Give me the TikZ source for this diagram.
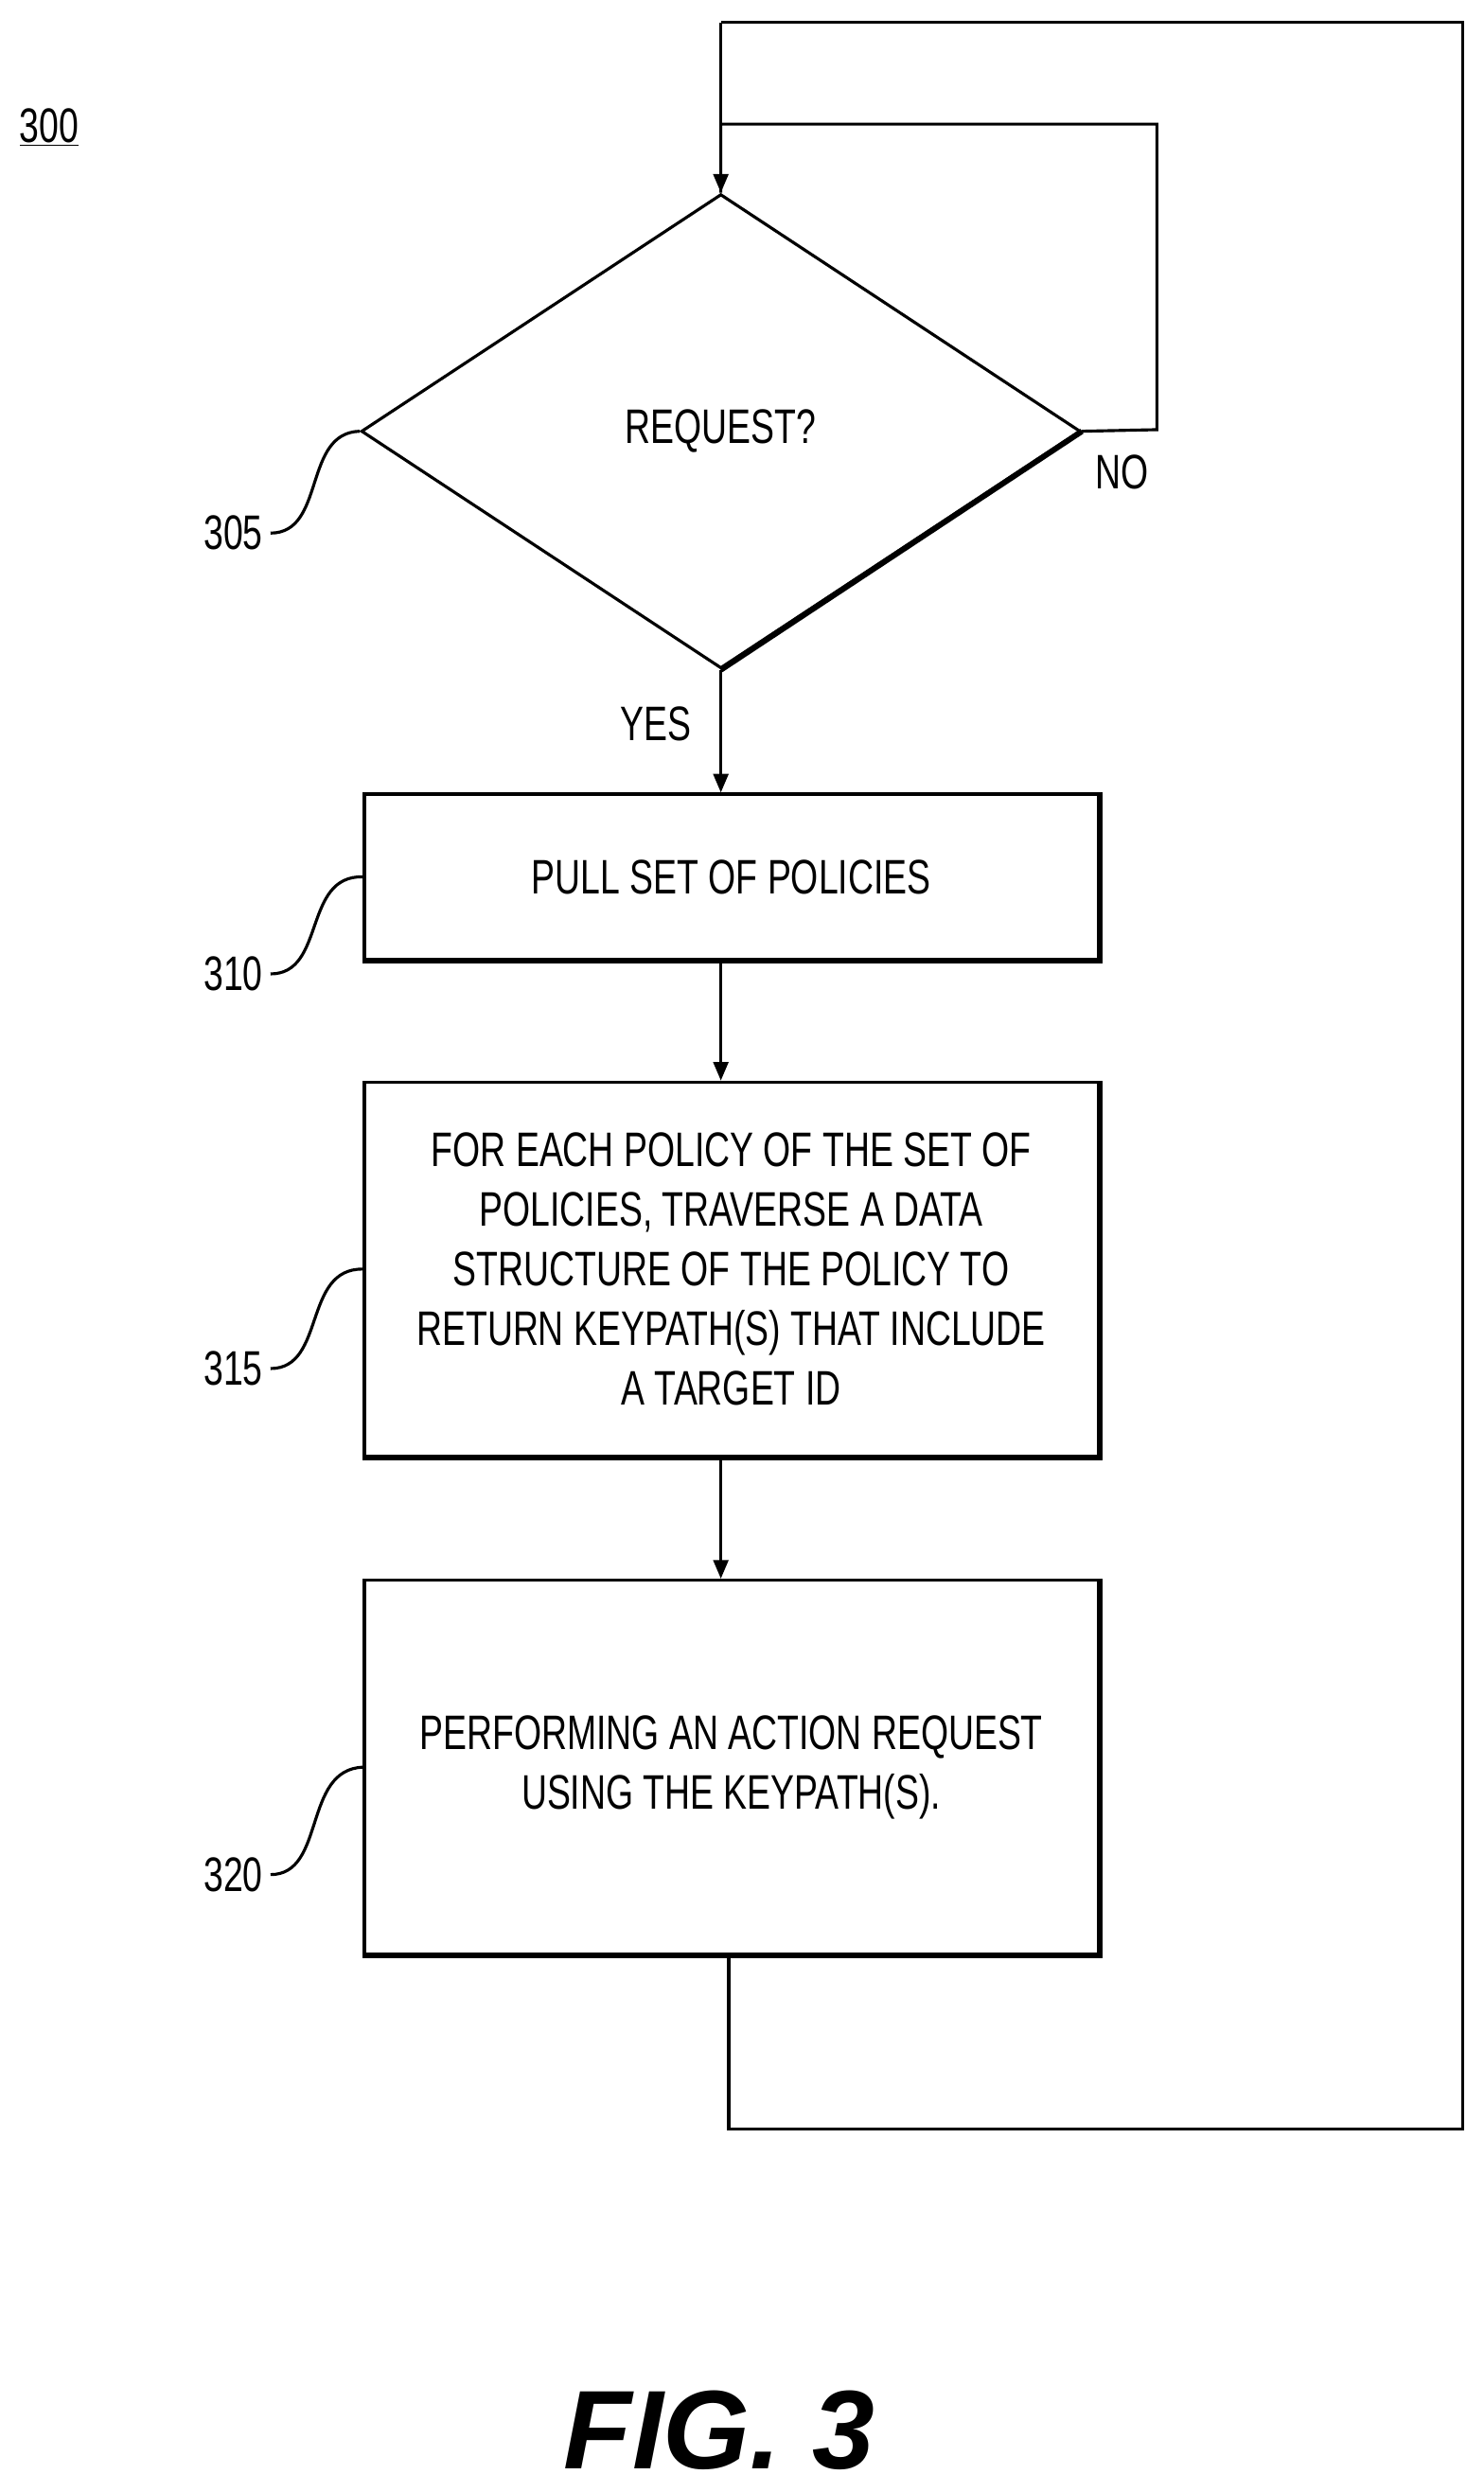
\documentclass[tikz,border=0pt]{standalone}
\usepackage{fontspec}
\setmainfont{Liberation Sans}[FakeStretch=0.73]
\newfontfamily\figfont{Liberation Sans}
\usetikzlibrary{arrows.meta,positioning,shapes.geometric}
\begin{document}
\begin{tikzpicture}[x=0.03cm,y=-0.03cm,line width=1.6pt,
    flowbox/.style={draw, rectangle, inner sep=0pt, minimum width=13.83cm, align=center, font=\fontsize{26}{32}\selectfont},
    ref/.style={font=\fontsize{26}{32}\selectfont, anchor=east},
    flow/.style={-{Triangle[length=10pt,width=8pt]}}]
  \useasboundingbox (0,0) rectangle (932,1566);

  % Title
  \node[font=\fontsize{26}{32}\selectfont] (fignum) at (31,80) {\underline{300}};

  % Decision
  \node[draw, diamond, inner sep=0pt, minimum width=13.56cm, minimum height=8.94cm, aspect=1.517,
    font=\fontsize{26}{32}\selectfont] (req) at (453,271) {REQUEST?};
  \draw[line width=3pt] (req.east) -- (req.south);
  \node[font=\fontsize{26}{32}\selectfont] (no) at (705,297) {NO};
  \node[font=\fontsize{26}{32}\selectfont] (yes) at (412,455) {YES};

  % Steps
  \node[flowbox, minimum height=3.12cm] (pull) at (459.5,551) {PULL SET OF POLICIES};
  \node[flowbox, minimum height=7.05cm] (trav) at (459.5,797.5) {FOR EACH POLICY OF THE SET OF\\POLICIES, TRAVERSE A DATA\\STRUCTURE OF THE POLICY TO\\RETURN KEYPATH(S) THAT INCLUDE\\A TARGET ID};
  \node[flowbox, minimum height=7.05cm] (act) at (459.5,1110.5) {PERFORMING AN ACTION REQUEST\\USING THE KEYPATH(S).};
  \foreach \n in {pull,trav,act}
    \draw[line width=3pt] (\n.north east) -- (\n.south east) -- (\n.south west);

  % Connectors
  \coordinate (noA) at (727,270);
  \coordinate (noB) at (727,78);
  \coordinate (loopA) at (458,1338);
  \coordinate (loopB) at (919,1338);
  \coordinate (loopC) at (919,14);
  \coordinate (loopD) at (453,14);
  \draw (req.east) -- (noA) -- (noB) -| (req.north);
  \draw[flow] (loopD) -- (req.north);
  \draw (act.south -| loopA) -- (loopA) -- (loopB) -- (loopC) -- (loopD);
  \draw[flow] (req.south) -- (pull.north -| req.south);
  \draw[flow] (pull.south -| req.south) -- (trav.north -| req.south);
  \draw[flow] (trav.south -| req.south) -- (act.north -| req.south);

  % Reference labels
  \node[ref] (r305) at (170,335) {305};
  \node[ref] (r310) at (170,612) {310};
  \node[ref] (r315) at (170,860) {315};
  \node[ref] (r320) at (170,1178) {320};
  \draw (r305.east) .. controls (205,335) and (190,272) .. (req.west);
  \draw (r310.east) .. controls (205,612) and (190,550) .. (pull.west);
  \draw (r315.east) .. controls (205,860) and (190,797) .. (trav.west);
  \draw (r320.east) .. controls (205,1178) and (190,1112) .. (act.west);

  \node[font=\figfont\fontsize{60}{70}\selectfont\bfseries\itshape] (cap) at (452,1527) {FIG. 3};
\end{tikzpicture}
\end{document}
